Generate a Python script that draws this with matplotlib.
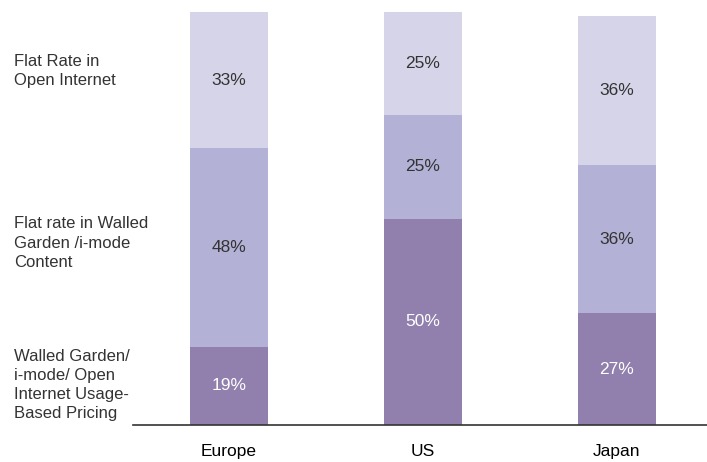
"""Stacked pricing-model share per region."""

import matplotlib.pyplot as plt
import numpy as np

plt.rcParams["font.family"] = ["Liberation Sans", "DejaVu Sans"]

regions = ["Europe", "US", "Japan"]
usage_based = [19, 50, 27]
walled_flat = [48, 25, 36]
open_flat = [33, 25, 36]

series_labels = [
    "Walled Garden/\ni-mode/ Open\nInternet Usage-\nBased Pricing",
    "Flat rate in Walled\nGarden /i-mode\nContent",
    "Flat Rate in\nOpen Internet",
]
colors = ["#9180ad", "#b3b1d6", "#d5d4e9"]
text_colors = ["white", "#333333", "#333333"]

W, H = 707, 462
fig = plt.figure(figsize=(W / 100, H / 100), dpi=100)
ax = fig.add_axes([133 / W, (H - 425) / H, 1 - 133 / W, (425 - 12) / H])

x = np.arange(len(regions))
bottom = np.zeros(len(regions))
for values, color, tcolor in zip([usage_based, walled_flat, open_flat], colors, text_colors):
    values = np.asarray(values, dtype=float)
    ax.bar(x, values, width=0.40, bottom=bottom, color=color, linewidth=0)
    for xi, b, v in zip(x, bottom, values):
        ax.text(xi, b + v / 2, f"{int(v)}%", ha="center", va="center",
                fontsize=12.5, color=tcolor)
    bottom += values

ax.set_xlim(-0.495, 2.464)
ax.set_ylim(0, 100)
for side in ["top", "right", "left"]:
    ax.spines[side].set_visible(False)
ax.spines["bottom"].set_color("#333333")
ax.spines["bottom"].set_linewidth(1.2)
ax.set_yticks([])
ax.set_xticks(x)
ax.set_xticklabels(regions, fontsize=12.5, color="black")
ax.tick_params(axis="x", length=0, pad=14)

# series names at the left, lined up with the Europe segments
label_centers = [385, 243, 71]
for text, yc in zip(series_labels, label_centers):
    fig.text(14 / W, 1 - yc / H, text, ha="left", va="center",
             fontsize=12, color="#333333", linespacing=1.35)

fig.savefig("out.png", dpi=100)
